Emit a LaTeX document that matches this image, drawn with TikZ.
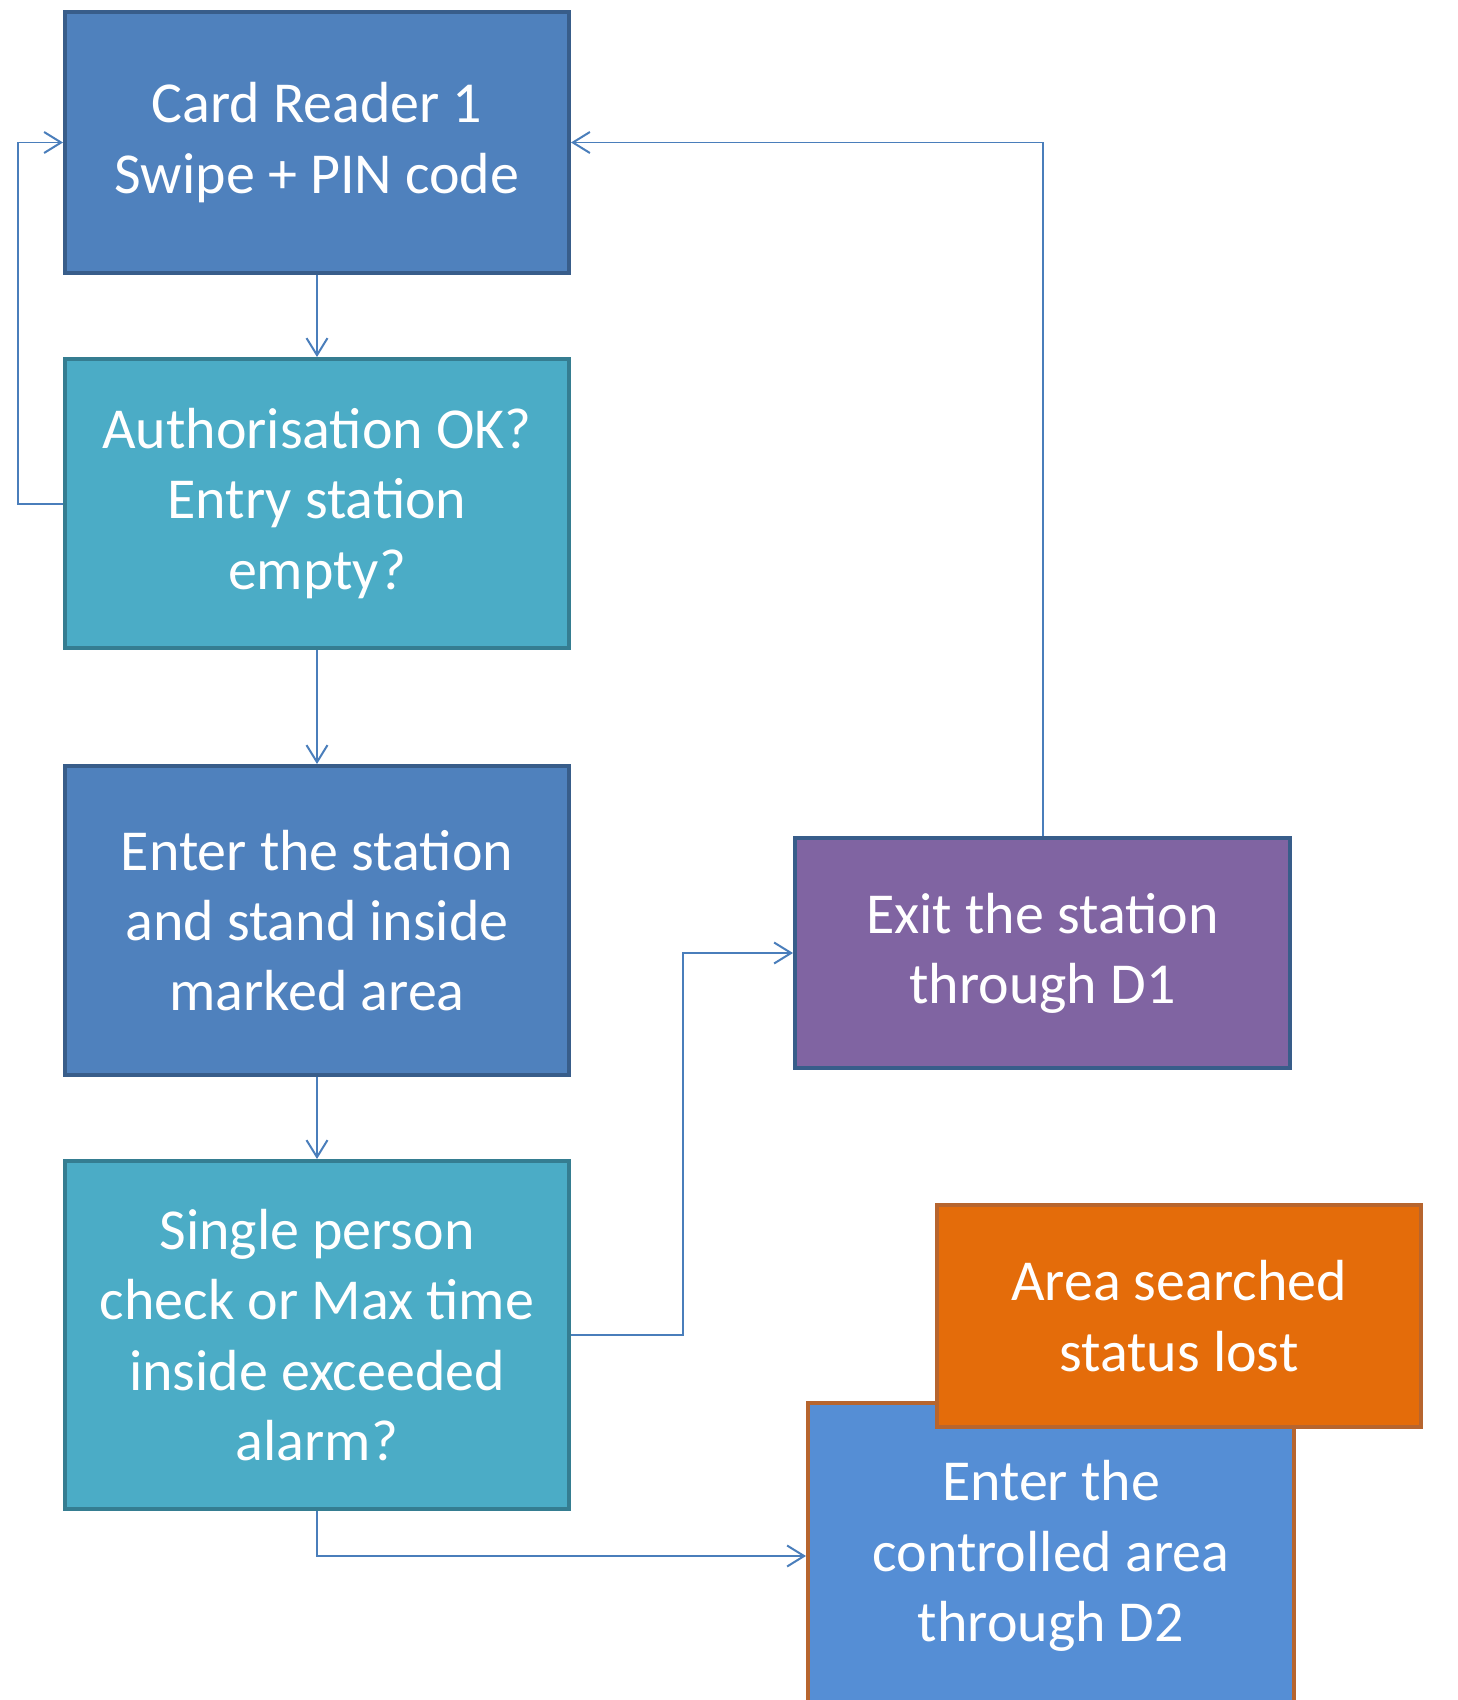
\documentclass[tikz,border=0pt]{standalone}
\usepackage{fontspec}
\setmainfont{Carlito}
\usepackage{xcolor}
\usetikzlibrary{arrows.meta}

\definecolor{cardblue}{HTML}{4F81BD}
\definecolor{cardline}{HTML}{385D8A}
\definecolor{tealbox}{HTML}{4BACC6}
\definecolor{tealline}{HTML}{357D91}
\definecolor{exitpurple}{HTML}{8064A2}
\definecolor{alarmorange}{HTML}{E46C0A}
\definecolor{orangeline}{HTML}{B7652E}
\definecolor{areablue}{HTML}{558ED5}
\definecolor{linkblue}{HTML}{4A7EBB}

\begin{document}
\begin{tikzpicture}[x=0.02cm, y=-0.02cm,
            block/.style={rectangle, draw, line width=0.08cm, text=white, align=center,
                font=\fontsize{33}{40}\selectfont, inner sep=0pt,
                execute at begin node={\rule{0pt}{1.08cm}}},
            arrow/.style={draw=linkblue, line width=0.04cm, -{Straight Barb[length=0.34cm,width=0.42cm]}}
        ]
            \useasboundingbox (0,0) rectangle (1457,1700);

            % Left column
            \node[block, fill=cardblue, draw=cardline, minimum width=504*0.02cm, minimum height=261*0.02cm] (card) at (317,142.5)
                {Card Reader 1\\Swipe + PIN code};
            \node[block, fill=tealbox, draw=tealline, minimum width=504*0.02cm, minimum height=289*0.02cm] (auth) at (317,503.5)
                {Authorisation OK?\\Entry station\\empty?};
            \node[block, fill=cardblue, draw=cardline, minimum width=504*0.02cm, minimum height=309*0.02cm] (enter) at (317,920.5)
                {Enter the station\\and stand inside\\marked area};
            \node[block, fill=tealbox, draw=tealline, minimum width=504*0.02cm, minimum height=348*0.02cm] (single) at (317,1335)
                {Single person\\check or Max time\\inside exceeded\\alarm?};

            % Right column
            \node[block, fill=exitpurple, draw=cardline, minimum width=495*0.02cm, minimum height=230*0.02cm] (exit) at (1042.5,953)
                {Exit the station\\through D1};
            \node[block, fill=areablue, draw=orangeline, minimum width=486*0.02cm, minimum height=306*0.02cm] (area) at (1051,1556)
                {Enter the\\controlled area\\through D2};
            \node[block, fill=alarmorange, draw=orangeline, minimum width=484*0.02cm, minimum height=222*0.02cm] (lost) at (1179,1316)
                {Area searched\\status lost};

            % Connectors
            \draw[arrow] (card) -- (auth);
            \draw[arrow] (auth) -- (enter);
            \draw[arrow] (enter) -- (single);
            \draw[arrow] (auth.west) -- ++(-45,0) |- (card.west);
            \draw[arrow] (single.east) -- ++(112,0) |- (exit.west);
            \draw[arrow] (exit.north) |- (card.east);
            \draw[arrow] (single.south) |- (area.west);
        \end{tikzpicture}
\end{document}
